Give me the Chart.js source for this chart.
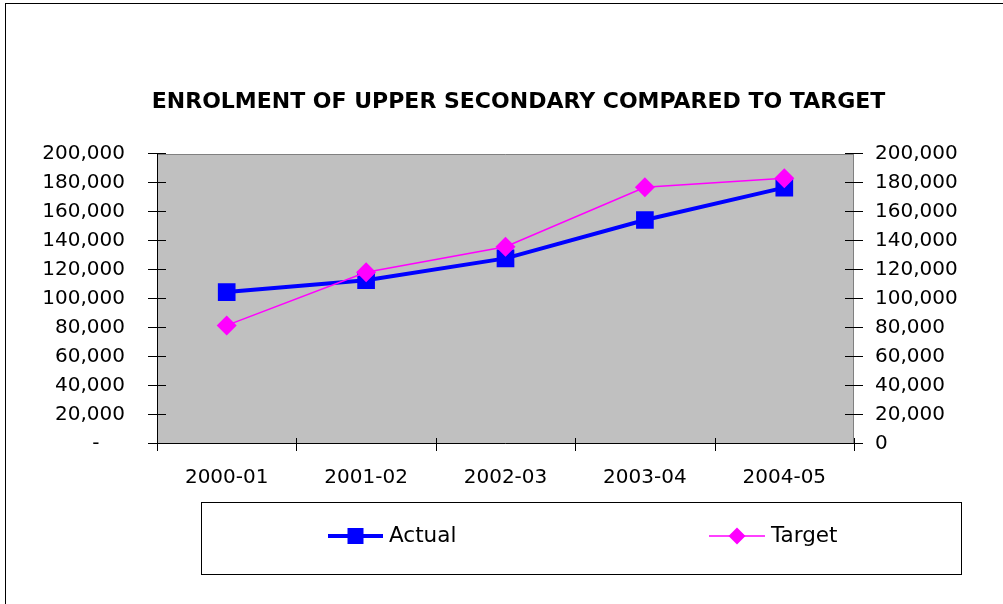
<!DOCTYPE html>
<html><head><meta charset="utf-8">
<style>html,body{margin:0;padding:0;background:#fff;overflow:hidden}canvas{display:block}</style>
<script src="https://cdn.jsdelivr.net/npm/chart.js@4.4.0/dist/chart.umd.min.js"></script>
</head><body>
<canvas id="c" width="1003" height="604"></canvas>
<script>
const categories = ['2000-01', '2001-02', '2002-03', '2003-04', '2004-05'];
const actualValues = [104800, 113000, 128000, 154500, 176800];
const targetValues = [81800, 118500, 136100, 177000, 183200];
const seriesNames = ['Actual', 'Target'];
const titleText = 'ENROLMENT OF UPPER SECONDARY COMPARED TO TARGET';
const yMin = 0, yMax = 200000, yStep = 20000;

const FONT = '"DejaVu Sans", "Liberation Sans", sans-serif';

function fmt(v) { return Number(v).toLocaleString('en-US'); }

const framePlugin = {
  id: 'frame',
  beforeDraw(chart) {
    const ctx = chart.ctx;
    ctx.save();
    ctx.fillStyle = '#fff';
    ctx.fillRect(0, 0, chart.width, chart.height);
    ctx.strokeStyle = '#000';
    ctx.lineWidth = 1;
    ctx.strokeRect(5.5, 3.5, 1400, 900);
    ctx.restore();
  },
  beforeDatasetsDraw(chart) {
    const ctx = chart.ctx, ca = chart.chartArea;
    const ys = chart.scales.y;
    ctx.save();
    ctx.fillStyle = '#c0c0c0';
    ctx.fillRect(ca.left, ca.top, ca.right - ca.left, ca.bottom - ca.top);
    ctx.lineWidth = 1;
    ctx.strokeStyle = '#808080';
    ctx.beginPath();
    ctx.moveTo(ca.left, ca.top + 0.5); ctx.lineTo(ca.right, ca.top + 0.5);
    ctx.moveTo(ca.right - 0.5, ca.top); ctx.lineTo(ca.right - 0.5, ca.bottom);
    ctx.stroke();
    ctx.strokeStyle = '#000';
    ctx.beginPath();
    ctx.moveTo(ca.left + 0.5, ca.top); ctx.lineTo(ca.left + 0.5, ca.bottom + 1);
    ctx.moveTo(ca.left, ca.bottom - 0.5); ctx.lineTo(ca.right, ca.bottom - 0.5);
    ys.ticks.forEach(t => {
      const py = Math.round(ys.getPixelForValue(t.value)) - 0.5;
      ctx.moveTo(ca.left - 9, py); ctx.lineTo(ca.left + 9, py);
      ctx.moveTo(ca.right - 9, py); ctx.lineTo(ca.right + 9, py);
    });
    const n = categories.length;
    for (let i = 0; i <= n; i++) {
      const px = Math.round(ca.left + i * (ca.right - ca.left) / n) + 0.5;
      ctx.moveTo(px, ca.bottom - 6); ctx.lineTo(px, ca.bottom + 7);
    }
    ctx.stroke();
    ctx.restore();
  },
  afterDraw(chart) {
    const ctx = chart.ctx;
    ctx.save();
    ctx.strokeStyle = '#000';
    ctx.lineWidth = 1;
    ctx.strokeRect(201.5, 502.5, 760, 72);
    const cy = 536;
    const items = [
      { x0: 328, x1: 383, tx: 389 },
      { x0: 709, x1: 765, tx: 771 }
    ];
    chart.data.datasets.forEach((ds, i) => {
      const it = items[i];
      ctx.strokeStyle = ds.borderColor;
      ctx.lineWidth = ds.borderWidth;
      ctx.beginPath();
      ctx.moveTo(it.x0, cy); ctx.lineTo(it.x1, cy);
      ctx.stroke();
      const mx = (it.x0 + it.x1) / 2;
      ctx.fillStyle = ds.backgroundColor;
      ctx.beginPath();
      if (ds.pointStyle === 'rect') {
        ctx.rect(mx - 8, cy - 8, 16, 16);
      } else {
        ctx.moveTo(mx, cy - 8.5); ctx.lineTo(mx + 8.5, cy);
        ctx.lineTo(mx, cy + 8.5); ctx.lineTo(mx - 8.5, cy);
        ctx.closePath();
      }
      ctx.fill();
      ctx.fillStyle = '#000';
      ctx.font = '21.5px ' + FONT;
      ctx.textAlign = 'left';
      ctx.textBaseline = 'middle';
      ctx.fillText(ds.label, it.tx, cy);
    });
    ctx.restore();
  }
};

new Chart(document.getElementById('c'), {
  type: 'line',
  data: {
    labels: categories,
    datasets: [
      {
        label: seriesNames[0],
        data: actualValues,
        borderColor: '#0000ff',
        backgroundColor: '#0000ff',
        borderWidth: 4,
        pointStyle: 'rect',
        pointRadius: 12.5,
        pointHoverRadius: 12.5,
        pointBorderWidth: 0,
        tension: 0,
        order: 1,
        yAxisID: 'y'
      },
      {
        label: seriesNames[1],
        data: targetValues,
        borderColor: '#ff00ff',
        backgroundColor: '#ff00ff',
        borderWidth: 1.5,
        pointStyle: 'rectRot',
        pointRadius: 10,
        pointHoverRadius: 10,
        pointBorderWidth: 0,
        tension: 0,
        order: 0,
        yAxisID: 'y'
      }
    ]
  },
  options: {
    responsive: false,
    animation: false,
    devicePixelRatio: 1,
    layout: { padding: { left: 34, top: 0, right: 0, bottom: 0 } },
    plugins: {
      legend: { display: false },
      tooltip: { enabled: false },
      title: {
        display: true,
        text: titleText,
        color: '#000',
        font: { family: FONT, size: 22, weight: 'bold', lineHeight: 1.2 },
        padding: { top: 88.8, bottom: 38.8 }
      }
    },
    scales: {
      x: {
        type: 'category',
        offset: true,
        grid: { display: false },
        border: { display: false },
        ticks: { color: '#000', font: { family: FONT, size: 20 }, padding: 14, maxRotation: 0, autoSkip: false },
        afterFit(s) { s.height = 160; }
      },
      y: {
        position: 'left',
        min: yMin, max: yMax,
        grid: { display: false },
        border: { display: false },
        ticks: {
          stepSize: yStep, color: '#000', font: { family: FONT, size: 20 }, padding: 24,
          callback: v => v === 0 ? '-    ' : fmt(v)
        },
        afterFit(s) { s.width = 123; }
      },
      y2: {
        position: 'right',
        min: yMin, max: yMax,
        grid: { display: false },
        border: { display: false },
        ticks: {
          stepSize: yStep, color: '#000', font: { family: FONT, size: 20 }, padding: 13,
          callback: v => fmt(v)
        },
        afterFit(s) { s.width = 149; }
      }
    }
  },
  plugins: [framePlugin]
});
</script>
</body></html>
